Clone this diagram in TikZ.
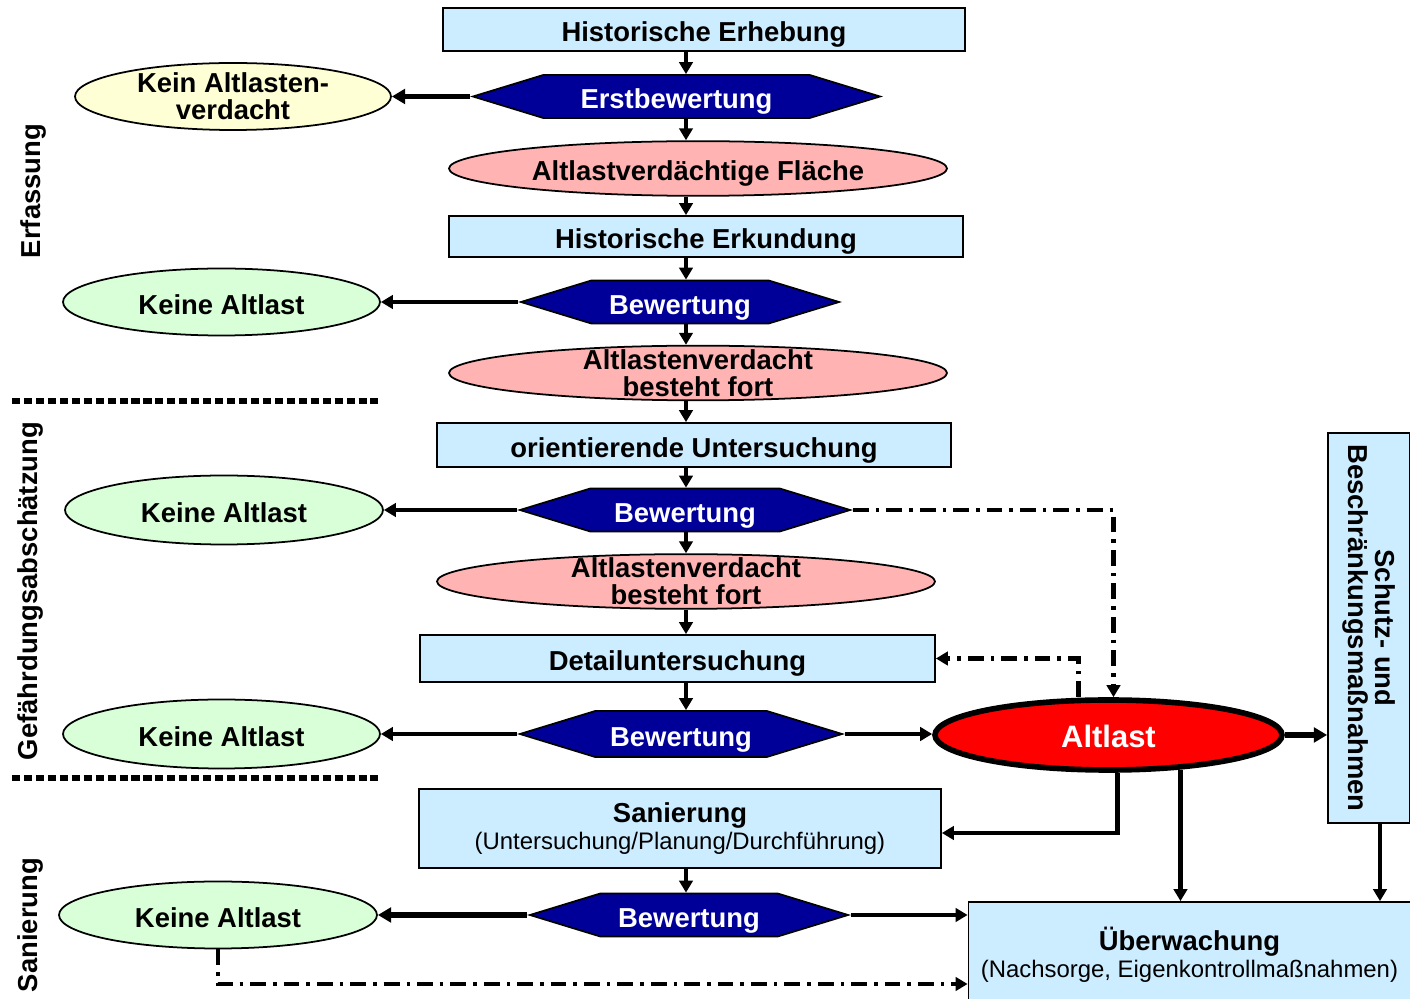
\documentclass[tikz,border=0pt]{standalone}
\usepackage{fontspec}
\setmainfont{Liberation Sans}
\usetikzlibrary{arrows.meta, shapes.geometric, shapes.symbols, positioning}
\definecolor{boxBlue}{HTML}{CCECFF}
\definecolor{hexBlue}{HTML}{000099}
\definecolor{ellPink}{HTML}{FFB3B3}
\definecolor{ellGreen}{HTML}{D9FFD9}
\definecolor{ellYellow}{HTML}{FFFFD5}
\definecolor{altRed}{HTML}{FF0000}
\tikzset{
  bfont/.style    = {font=\fontsize{7.8}{7.6}\selectfont\bfseries},
  onel/.style     = {text height=0.9em, text depth=0.2em},
  stepbox/.style  = {draw, fill=boxBlue, line width=0.5pt, inner sep=0pt, bfont},
  hexa/.style     = {signal, signal to=east and west, signal pointer angle=34,
                     draw, fill=hexBlue, line width=0.5pt, inner sep=0pt,
                     minimum height=4.3mm, text=white, bfont, onel},
  ell/.style      = {ellipse, draw, line width=0.5pt, inner sep=0pt, bfont, onel},
  twoline/.style  = {label={[bfont, align=center]center:#1}},
  sidelbl/.style  = {bfont, rotate=90},
  arr/.style      = {-{Triangle[length=3.4pt, width=3.8pt]}, line width=1.3pt},
  thickarr/.style = {-{Triangle[length=3.8pt, width=4.2pt]}, line width=1.7pt},
  dashdot/.style  = {line width=1.1pt, dash pattern=on 4.5pt off 2pt on 1pt off 2pt},
  sepline/.style  = {line width=1.7pt, dash pattern=on 2.3pt off 1.1pt},
}

\begin{document}
\begin{tikzpicture}
\clip (0,0) rectangle (14.1,-9.99);
% section labels and separators
\node[sidelbl] (erfassung) at (0.33,-1.91) {Erfassung};
\node[sidelbl] (gefahr) at (0.30,-5.91) {Gefährdungsabschätzung};
\node[sidelbl] (sanlbl) at (0.30,-9.25) {Sanierung};
\draw[sepline] (0.12,-4.01) -- (3.78,-4.01);
\draw[sepline] (0.12,-7.78) -- (3.78,-7.78);
% main column
\coordinate (spine) at (6.86,0);
\node[stepbox, onel, minimum width=5.22cm, minimum height=4.3mm] (erheb) at (7.04,-0.295) {Historische Erhebung};
\node[hexa, minimum width=4.07cm] (erst) at (6.765,-0.965) {Erstbewertung};
\node[ell, fill=ellPink, minimum width=4.98cm, minimum height=4.9mm] (flaeche) at (6.98,-1.685) {Altlastverdächtige Fläche};
\node[stepbox, onel, minimum width=5.14cm, minimum height=4.1mm] (erkund) at (7.06,-2.365) {Historische Erkundung};
\node[hexa, minimum width=3.18cm] (bew1) at (6.80,-3.02) {Bewertung};
\node[ell, fill=ellPink, minimum width=4.98cm, minimum height=4.8mm,
      twoline={Altlastenverdacht\\besteht fort}] (fort1) at (6.98,-3.73) {};
\node[stepbox, onel, minimum width=5.14cm, minimum height=4.4mm] (orient) at (6.94,-4.45) {orientierende Untersuchung};
\node[hexa, minimum width=3.3cm] (bew2) at (6.85,-5.10) {Bewertung};
\node[ell, fill=ellPink, minimum width=4.98cm, minimum height=4.9mm,
      twoline={Altlastenverdacht\\besteht fort}] (fort2) at (6.86,-5.815) {};
\node[stepbox, onel, minimum width=5.15cm, minimum height=4.7mm] (detail) at (6.775,-6.585) {Detailuntersuchung};
\node[hexa, minimum width=3.22cm, minimum height=4.6mm] (bew3) at (6.81,-7.34) {Bewertung};
\node[stepbox, minimum width=5.22cm, minimum height=7.9mm, align=center] (sanier) at (6.80,-8.285)
  {\fontsize{7.8}{8.9}\selectfont Sanierung\\\mdseries\fontsize{6.8}{8.9}\selectfont(Untersuchung/Planung/Durchführung)};
\node[hexa, minimum width=3.18cm] (bew4) at (6.89,-9.15) {Bewertung};
% left column
\node[ell, fill=ellYellow, minimum width=3.16cm, minimum height=6.7mm,
      twoline={Kein Altlasten-\\verdacht}] (kein) at (2.33,-0.965) {};
\node[ell, fill=ellGreen, minimum width=3.17cm, minimum height=6.7mm] (keine1) at (2.215,-3.02) {Keine Altlast};
\node[ell, fill=ellGreen, minimum width=3.18cm, minimum height=6.9mm] (keine2) at (2.24,-5.10) {Keine Altlast};
\node[ell, fill=ellGreen, minimum width=3.17cm, minimum height=6.9mm] (keine3) at (2.215,-7.34) {Keine Altlast};
\node[ell, fill=ellGreen, minimum width=3.18cm, minimum height=6.7mm] (keine4) at (2.18,-9.15) {Keine Altlast};
% right side
\node[ellipse, draw, line width=1.6pt, fill=altRed, text=white, inner sep=0pt, onel,
      font=\fontsize{8.8}{9}\selectfont\bfseries,
      minimum width=3.47cm, minimum height=7mm] (altlast) at (11.085,-7.35) {Altlast};
\node[stepbox, minimum width=8.2mm, minimum height=3.9cm,
      label={[bfont, rotate=-90, align=center]center:Schutz- und\\Beschränkungsmaßnahmen}] (schutz) at (13.69,-6.28) {};
\node[stepbox, minimum width=4.42cm, minimum height=10.6mm, align=center] (ueberw) at (11.895,-9.55)
  {\fontsize{7.8}{9}\selectfont Überwachung\\\mdseries\fontsize{6.8}{9}\selectfont(Nachsorge, Eigenkontrollmaßnahmen)};

% flow down the column
\foreach \a/\b in {erheb/erst, erst/flaeche, flaeche/erkund, erkund/bew1, bew1/fort1,
                   fort1/orient, orient/bew2, bew2/fort2, fort2/detail, detail/bew3, sanier/bew4}
  \draw[arr] (\a.south -| spine) -- (\b.north -| spine);
% no contamination exits
\draw[thickarr] (erst.west) -- (kein.east);
\foreach \a/\b in {bew1/keine1, bew2/keine2, bew3/keine3}
  \draw[arr] (\a.west) -- (\b.east);
\draw[thickarr] (bew4.west) -- (keine4.east);
% contaminated site
\draw[arr] (bew3.east) -- (bew3.east -| altlast.west);
\draw[dashdot, arr] (bew2.east) -| ([xshift=0.5mm]altlast.north);
\draw[dashdot, arr] ([xshift=-3mm]altlast.north) |- (detail.east);
\draw[thickarr] (altlast.east) -- (altlast.east -| schutz.west);
\draw[arr] ([xshift=0.9mm]altlast.south) |- ([yshift=-0.45mm]sanier.east);
\draw[arr] ([xshift=7.2mm, yshift=0.3mm]altlast.south) -- ([xshift=7.2mm]altlast.south |- ueberw.north);
\draw[arr] ([xshift=1.1mm]schutz.south) -- ([xshift=1.1mm]schutz.south |- ueberw.north);
% monitoring
\draw[arr] (bew4.east) -- (bew4.east -| ueberw.west);
\draw[dashdot, arr] (keine4.south) |- ([yshift=-2.9mm]ueberw.west);
\end{tikzpicture}
\end{document}
